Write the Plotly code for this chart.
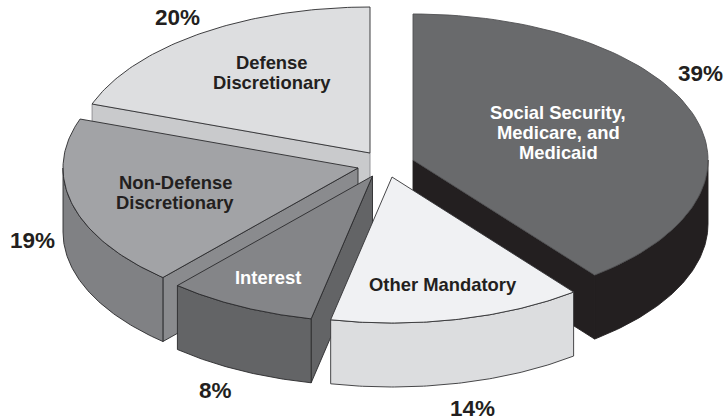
import math
import plotly.graph_objects as go

# --- data ---
categories = ["Social Security,<br>Medicare, and<br>Medicaid", "Other Mandatory", "Interest",
              "Non-Defense<br>Discretionary", "Defense<br>Discretionary"]
shares = [39, 14, 8, 19, 20]

# --- style / projection ---
apex_x = [413, 392, 372.5, 358, 370]
apex_y = [160, 177, 176, 168, 153]
edge_nudge = [0, 1.6, 1.2, 1.8, 1.6, 0]
top_colors = ["#696A6C", "#F0F1F3", "#848588", "#A2A3A6", "#DDDEE0"]
rim_colors = ["#231F20", "#DCDDDF", "#636466", "#808184", "#C9CACC"]
cut_colors = ["#231F20", "#DCDDDF", "#636466", "#8A8B8E", "#C9CACC"]
line_colors = ["#505052", "#333335", "#2A2A2C", "#2A2A2C", "#2A2A2C"]
label_x = [558, 443, 268, 175, 272]
label_y = [132, 284, 277, 192, 72]
label_colors = ["white", "#231F20", "white", "#231F20", "#231F20"]
pct_x = [700, 472, 215, 32, 177]
pct_y = [73, 408, 390, 240, 17]
LABEL_LINE = 20
RX, RY, DEPTH = 295, 146, 64
draw_order = [4, 0, 3, 2, 1]

# cumulative angle edges, clockwise from the top
total = sum(shares)
edges = [0.0]
for v in shares:
    edges.append(edges[-1] + v / total * 360)
edges = [e + n for e, n in zip(edges, edge_nudge)]


def arc(i, a0, a1, dy=0, n=80):
    pts = []
    for k in range(n + 1):
        t = math.radians(a0 + (a1 - a0) * k / n)
        pts.append((apex_x[i] + RX * math.sin(t), apex_y[i] - RY * math.cos(t) + dy))
    return pts


fig = go.Figure()


def poly(pts, fill, line, width=0.9):
    xs = [p[0] for p in pts] + [pts[0][0]]
    ys = [p[1] for p in pts] + [pts[0][1]]
    fig.add_trace(go.Scatter(x=xs, y=ys, mode="lines", fill="toself", fillcolor=fill,
                             line=dict(color=line, width=width), hoverinfo="skip", showlegend=False))


for i in draw_order:
    a0, a1 = edges[i], edges[i + 1]
    apex = (apex_x[i], apex_y[i])
    lc = rim_colors[i] if i == 0 else line_colors[i]
    if i == 0:
        e = arc(i, a1, a1, n=1)[0]
        poly([apex, e, (e[0], e[1] + DEPTH), (apex[0], apex[1] + DEPTH)], cut_colors[i], lc)
    elif i in (2, 3, 4):
        e = arc(i, a0, a0, n=1)[0]
        poly([apex, e, (e[0], e[1] + DEPTH), (apex[0], apex[1] + DEPTH)], cut_colors[i],
             "#8A8B8E" if i == 4 else lc)
    # outer rim: only the part of the ellipse facing the viewer
    r0, r1 = max(a0, 90), min(a1, 270)
    if r1 > r0:
        poly(arc(i, r0, r1) + arc(i, r1, r0, dy=DEPTH), rim_colors[i], lc)
    # top face
    poly([apex] + arc(i, a0, a1), top_colors[i], line_colors[i])

for i, name in enumerate(categories):
    lines = name.split("<br>")
    for j, line in enumerate(lines):
        fig.add_annotation(x=label_x[i], y=label_y[i] + (j - (len(lines) - 1) / 2) * LABEL_LINE,
                           text=line, showarrow=False, xref="x", yref="y",
                           font=dict(family="Liberation Sans", size=18.4, color=label_colors[i], weight="bold"))
    fig.add_annotation(x=pct_x[i], y=pct_y[i], text=f"{shares[i]}%", showarrow=False, xref="x", yref="y",
                       font=dict(family="Liberation Sans", size=22.5, color="#231F20", weight="bold"))

fig.update_layout(width=725, height=420, margin=dict(l=0, r=0, t=0, b=0),
                  paper_bgcolor="white", plot_bgcolor="white", showlegend=False,
                  xaxis=dict(range=[0, 725], visible=False, fixedrange=True),
                  yaxis=dict(range=[420, 0], visible=False, fixedrange=True))
fig.write_html("out.html", config={"displayModeBar": False},
               post_script="document.body.style.margin='0';")
